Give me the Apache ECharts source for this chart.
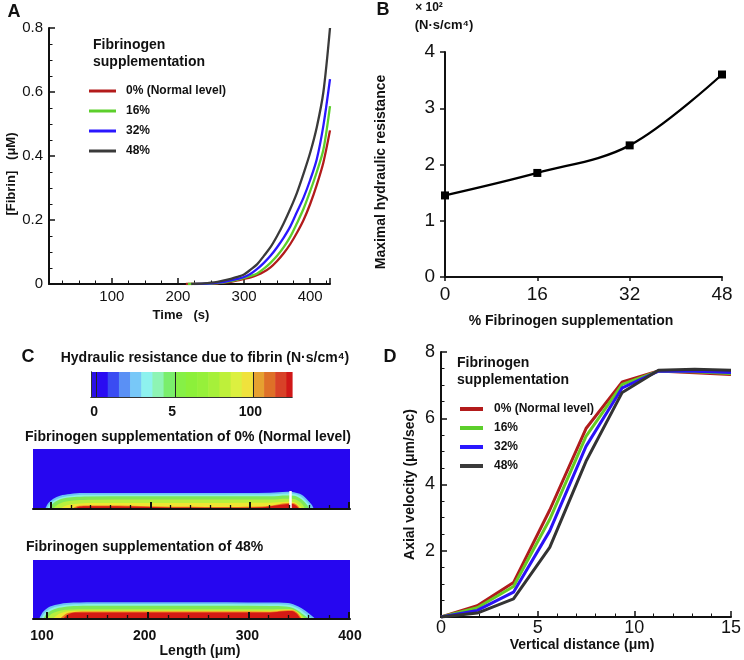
<!DOCTYPE html>
<html><head><meta charset="utf-8">
<script src="https://cdn.jsdelivr.net/npm/echarts@6/dist/echarts.min.js"></script>
<style>html,body{margin:0;padding:0;background:#fff}#c{width:744px;height:660px}</style>
</head><body><div id="c"></div>
<script>
// ===== Data =====
const seriesNames = ['0% (Normal level)', '16%', '32%', '48%'];

// Panel A: [time (s), fibrin (uM)]
const fibrin0 = [[212,0],[230,0.0005],[250,0.001],[260,0.002],[270,0.004],[280,0.007],[290,0.011],[300,0.016],[310,0.021],[320,0.028],[330,0.038],[340,0.052],[350,0.072],[360,0.096],[370,0.125],[380,0.16],[390,0.2],[400,0.25],[410,0.31],[420,0.38],[430,0.48]];
const fibrin16 = [[215,0],[240,0.0008],[250,0.0015],[260,0.003],[270,0.005],[280,0.009],[290,0.014],[300,0.019],[310,0.025],[320,0.033],[330,0.048],[340,0.066],[350,0.088],[360,0.115],[370,0.148],[380,0.19],[390,0.235],[400,0.29],[410,0.35],[420,0.42],[430,0.556]];
const fibrin32 = [[225,0],[250,0.002],[260,0.004],[270,0.007],[280,0.011],[290,0.016],[300,0.022],[310,0.032],[320,0.047],[330,0.066],[340,0.088],[350,0.115],[360,0.145],[370,0.18],[380,0.225],[390,0.27],[400,0.325],[410,0.39],[420,0.495],[430,0.64]];
const fibrin48 = [[220,0],[240,0.002],[250,0.004],[260,0.007],[270,0.011],[280,0.016],[290,0.022],[300,0.03],[310,0.045],[320,0.062],[330,0.088],[340,0.115],[350,0.15],[360,0.19],[370,0.235],[380,0.285],[390,0.345],[400,0.41],[410,0.49],[420,0.6],[430,0.8]];

// Panel B
const supplementPct = [0, 16, 32, 48];
const maxResistance = [1.45, 1.85, 2.34, 3.6];

// Panel D
const verticalDistance = [0, 1.875, 3.75, 5.625, 7.5, 9.375, 11.25, 13.125, 15];
const velocity0 = [0, 0.34, 1.04, 3.23, 5.69, 7.1, 7.43, 7.37, 7.32];
const velocity16 = [0, 0.28, 0.92, 2.95, 5.45, 7.02, 7.42, 7.4, 7.35];
const velocity32 = [0, 0.2, 0.75, 2.6, 5.15, 6.92, 7.42, 7.42, 7.38];
const velocity48 = [0, 0.12, 0.55, 2.1, 4.7, 6.78, 7.45, 7.48, 7.45];

// Panel C colour bar
const colorbarEdges = [0,0.5,1.5,2.5,3.5,4.5,5.5,6.5,7.5,8.5,9.5,10.5,11.5,12.5,13.5,14.5,15.5,16.5,17.5,18];
const colorbarTickPos = [0.5, 7.5, 14.5];
const colorbarTickLabels = ['0', '5', '100'];

// Panel C clot contour layers: [length (um), height]
const clot0Rim = [[102.9,0],[104.4,3],[106.1,6],[111.0,10.3],[117.5,13.3],[127.3,15],[139.9,16],[205.2,16],[273.4,16],[322.1,16.3],[338.6,17.2],[345.4,16.8],[352.9,14.3],[358.4,9.3],[362.7,4.3],[364.9,0]];
const clot0Aqua = [[104.9,0],[106.3,3],[108.3,6],[113.1,9.3],[119.5,11.8],[129.2,13.3],[141.9,14.2],[205.2,14.3],[322.1,14.5],[338.6,15.4],[345.4,15],[351.8,12.8],[356.7,8.5],[360.6,4],[362.5,0]];
const clot0Green = [[106.8,0],[108.8,3],[111.2,6],[115.6,8.8],[121.4,10.8],[131.2,12],[144.8,12.6],[322.1,12.8],[338.6,13.6],[345.4,13.2],[350.8,11],[355.2,7.5],[358.6,3.5],[360.1,0]];
const clot0Lime = [[110.7,0],[113.6,3],[117.5,5.5],[123.4,7.5],[133.1,8.7],[148.7,9.3],[322.1,9.5],[338.6,10.3],[345.4,10],[349.8,8],[353.7,4.5],[356.2,0]];
const clot0Yellow = [[117.5,0],[121.4,2.5],[127.3,4.5],[137.0,5.6],[151.6,6],[322.1,6.3],[338.6,7.2],[345.4,7],[348.9,5],[351.8,2.5],[353.7,0]];
const clot0Orange = [[129.2,0],[132.1,2],[137.0,3.2],[156.5,3.4],[195.5,3],[234.4,2.2],[283.1,2],[314.3,2.4],[326.9,4],[336.7,5.8],[343.5,6],[347.4,4.8],[349.8,2.5],[351.3,0]];
const clot0Red = [[132.1,0],[135.1,2],[141.9,2.7],[166.2,2.8],[195.5,2.3],[234.4,1.5],[283.1,1.3],[314.3,1.8],[327.9,3.5],[337.6,4.8],[343.5,5],[346.9,3.8],[349.3,1.5],[350.3,0]];
const whiteMarkLength = 342.2;
const whiteMarkHeight = 18;

const clot48Rim = [[97.4,0],[98.5,3],[101.3,7.7],[107.8,12.7],[117.5,15.3],[130.5,16.7],[156.5,17],[322.1,16.8],[339.6,16.2],[346.4,14.3],[352.9,11],[359.4,6],[364.2,2],[366.2,0]];
const clot48Aqua = [[99.3,0],[100.5,3],[103.4,7],[109.7,11.3],[119.5,13.7],[132.1,15],[156.5,15.3],[322.1,15.1],[338.6,14.5],[345.4,12.8],[351.8,9.5],[357.2,5],[361.5,1.5],[363.5,0]];
const clot48Green = [[101.5,0],[102.9,3],[105.8,6.5],[111.7,10],[121.4,12.2],[134.1,13.2],[156.5,13.4],[322.1,13.3],[337.6,12.8],[344.5,11.2],[350.3,8],[355.2,4],[359.1,1],[360.6,0]];
const clot48Lime = [[104.9,0],[106.8,3],[110.7,6],[117.5,8.5],[127.3,9.6],[141.9,10],[322.1,10],[336.7,10.2],[343.5,9.8],[348.9,7],[353.2,3.5],[356.2,0]];
const clot48Yellow = [[110.7,0],[113.6,3],[118.5,6],[125.3,7.8],[137.0,8.3],[322.1,8.3],[336.7,9.3],[343.5,9.3],[348.6,7],[351.8,3.5],[353.7,0]];
const clot48Orange = [[117.5,0],[120.5,3],[124.4,5.8],[131.2,7.2],[146.8,7.6],[322.1,7.5],[335.7,8.6],[343.5,8.8],[348.0,6.8],[351.3,3],[352.7,0]];
const clot48Red = [[120.5,0],[123.4,3],[127.3,5.5],[134.1,6.5],[151.6,6.7],[322.1,6.7],[335.7,8],[343.5,8.2],[347.4,6],[350.3,2.5],[351.8,0]];

// ===== Styles =====
const FONT = '"Liberation Sans", Arial, Helvetica, sans-serif';
const colorsA = ['#b31b1b', '#5ccf2b', '#2a17ff', '#3a3a3a'];
const colorsD = ['#b01c1c', '#66cc22', '#2b12f5', '#333333'];
const barPalette = ['#2a10e6','#2a0cf2','#3a4cf2','#5a90f5','#78c8f8','#8ef2ee','#8ef4b4','#7aee6c','#86f046','#8cf03a','#96f03a','#a6f03a','#bef03a','#dcf040','#f0e23c','#e6a030','#de7028','#d84228','#d01818'];
const clotColors = ['#6cc4f6','#8cf0e4','#7ee858','#b8f03c','#f0e632','#ec7a22','#d41a14'];
const channelBlue = '#2606f0';

const fibrinSets = [fibrin0, fibrin16, fibrin32, fibrin48];
const velocitySets = [velocity0, velocity16, velocity32, velocity48];
const clot0Layers = [clot0Rim, clot0Aqua, clot0Green, clot0Lime, clot0Yellow, clot0Orange, clot0Red];
const clot48Layers = [clot48Rim, clot48Aqua, clot48Green, clot48Lime, clot48Yellow, clot48Orange, clot48Red];
const colorbarSegments = colorbarEdges.slice(0, -1).map((e, i) => [e, colorbarEdges[i + 1]]);

const black = '#111';
const boldName = (size) => ({fontFamily: FONT, fontWeight: 'bold', fontSize: size, color: black});
const hiddenAxis = (grid, extra) => Object.assign({gridIndex: grid, type: 'value', show: false}, extra || {});

const chart = echarts.init(document.getElementById('c'), null, {renderer: 'canvas', width: 744, height: 660});

const txt = (text, x, y, size, align, extra) => ({
  type: 'text', x: x, y: y, silent: true,
  style: Object.assign({text: text, font: 'bold ' + size + 'px ' + FONT, fill: black,
    textAlign: align || 'center', align: align || 'center', textVerticalAlign: 'middle', verticalAlign: 'middle'}, extra || {})
});

const series = [];
fibrinSets.forEach((d, i) => series.push({
  name: seriesNames[i], type: 'line', xAxisIndex: 0, yAxisIndex: 0, data: d, smooth: 0.3,
  showSymbol: false, symbol: 'none', color: colorsA[i], lineStyle: {width: 2.3, color: colorsA[i]}, z: 3
}));
series.push({
  type: 'line', xAxisIndex: 1, yAxisIndex: 1, data: supplementPct.map((p, i) => [p, maxResistance[i]]),
  smooth: 0.35, symbol: 'rect', symbolSize: 8, color: '#000', lineStyle: {width: 2.3, color: '#000'}, itemStyle: {color: '#000'}
});
velocitySets.forEach((v, i) => series.push({
  name: seriesNames[i], type: 'line', xAxisIndex: 2, yAxisIndex: 2, data: verticalDistance.map((x, j) => [x, v[j]]),
  showSymbol: false, symbol: 'none', color: colorsD[i], lineStyle: {width: 3, color: colorsD[i]}, z: 3
}));
series.push({
  type: 'custom', xAxisIndex: 3, yAxisIndex: 3, data: colorbarSegments, silent: true,
  renderItem: (params, api) => {
    const s = api.coord([api.value(0), 1]);
    const e = api.coord([api.value(1), 0]);
    return {type: 'rect', shape: {x: s[0], y: s[1], width: e[0] - s[0] + 0.6, height: e[1] - s[1]},
      style: {fill: barPalette[params.dataIndex]}};
  },
  markLine: {silent: true, symbol: ['none', 'none'], label: {show: false},
    lineStyle: {color: '#222', width: 1, type: 'solid'},
    data: colorbarTickPos.map(p => ({xAxis: p}))}
});
const addClot = (layers, ax, withMark) => layers.forEach((d, i) => {
  const s = {type: 'line', xAxisIndex: ax, yAxisIndex: ax, data: d, smooth: 0.35, showSymbol: false, symbol: 'none',
    silent: true, color: clotColors[i], lineStyle: {width: 0, color: clotColors[i]},
    areaStyle: {color: clotColors[i], opacity: 1}, z: 2};
  if (withMark && i === layers.length - 1) {
    s.markLine = {silent: true, symbol: ['none', 'none'], label: {show: false},
      lineStyle: {color: '#ffffff', width: 2.5, type: 'solid'},
      data: [[{coord: [whiteMarkLength, 0]}, {coord: [whiteMarkLength, whiteMarkHeight]}]]};
  }
  series.push(s);
});
addClot(clot0Layers, 5, true);
addClot(clot48Layers, 6, false);

const option = {
  animation: false,
  backgroundColor: '#ffffff',
  textStyle: {fontFamily: FONT},
  grid: [
    {left: 49, top: 28, width: 281, height: 256},
    {left: 445, top: 52, width: 277, height: 225},
    {left: 441, top: 352, width: 291, height: 265},
    {left: 91, top: 372, width: 201, height: 25},
    {left: 33, top: 449, width: 317, height: 60, show: true, backgroundColor: channelBlue, borderWidth: 0},
    {left: 33, top: 560, width: 317, height: 59, show: true, backgroundColor: channelBlue, borderWidth: 0},
    {left: 51, top: 449, width: 298, height: 60},
    {left: 47, top: 560, width: 302, height: 59},
    {left: 42, top: 619, width: 308, height: 1}
  ],
  xAxis: [
    {gridIndex: 0, type: 'value', min: 5, max: 430,
      axisLine: {lineStyle: {color: black, width: 2}},
      axisTick: {inside: true, length: 6, lineStyle: {color: black, width: 1.5}},
      minorTick: {show: true, splitNumber: 4, length: 3.5, lineStyle: {color: black, width: 1}},
      splitLine: {show: false},
      axisLabel: {fontFamily: FONT, fontSize: 15, color: black, margin: 5, formatter: v => (v % 100 === 0 ? String(v) : '')},
      name: 'Time   (s)', nameLocation: 'middle', nameGap: 25, nameTextStyle: Object.assign(boldName(13), {padding: [0, 17, 0, 0]})},
    {gridIndex: 1, type: 'value', min: 0, max: 48, interval: 16,
      axisLine: {lineStyle: {color: black, width: 2}},
      axisTick: {inside: false, length: 4, lineStyle: {color: black, width: 1.5}},
      splitLine: {show: false},
      axisLabel: {fontFamily: FONT, fontSize: 19, color: black, margin: 8},
      name: '% Fibrinogen supplementation', nameLocation: 'middle', nameGap: 37, nameTextStyle: Object.assign(boldName(14), {padding: [0, 25, 0, 0]})},
    {gridIndex: 2, type: 'value', min: 0, max: 15, interval: 5,
      axisLine: {lineStyle: {color: black, width: 2}},
      axisTick: {inside: true, length: 6, lineStyle: {color: black, width: 1.5}},
      minorTick: {show: true, splitNumber: 5, length: 3.5, lineStyle: {color: black, width: 1}},
      splitLine: {show: false},
      axisLabel: {fontFamily: FONT, fontSize: 18, color: black, margin: 2},
      name: 'Vertical distance (μm)', nameLocation: 'middle', nameGap: 20, nameTextStyle: Object.assign(boldName(14), {padding: [0, 8, 0, 0]})},
    {gridIndex: 3, type: 'value', min: 0, max: 18, interval: 0.5, z: 10,
      axisLine: {lineStyle: {color: '#333', width: 1}}, axisTick: {show: false}, splitLine: {show: false},
      axisLabel: {fontFamily: FONT, fontWeight: 'bold', fontSize: 14, color: black, margin: 8, padding: [0, 5, 0, 0],
        formatter: v => { const k = colorbarTickPos.indexOf(v); return k >= 0 ? colorbarTickLabels[k] : ''; }}},
    {gridIndex: 3, type: 'value', position: 'top', min: 0, max: 18, z: 10,
      axisLine: {lineStyle: {color: '#333', width: 1}}, axisTick: {show: false}, axisLabel: {show: false}, splitLine: {show: false}},
    {gridIndex: 4, type: 'value', min: 91.2, max: 400, z: 10,
      axisLine: {lineStyle: {color: black, width: 2}}, axisTick: {show: false}, axisLabel: {show: false}, splitLine: {show: false}},
    {gridIndex: 5, type: 'value', min: 91.2, max: 400, z: 10,
      axisLine: {lineStyle: {color: black, width: 2}}, axisTick: {show: false}, axisLabel: {show: false}, splitLine: {show: false}},
    {gridIndex: 6, type: 'value', min: 0, max: 3, interval: 1, z: 11,
      axisLine: {show: false}, axisTick: {inside: true, length: 7, lineStyle: {color: black, width: 2}},
      minorTick: {show: true, splitNumber: 5, length: 4, lineStyle: {color: black, width: 1.3}},
      axisLabel: {show: false}, splitLine: {show: false}},
    {gridIndex: 7, type: 'value', min: 0, max: 3, interval: 1, z: 11,
      axisLine: {show: false}, axisTick: {inside: true, length: 7, lineStyle: {color: black, width: 2}},
      minorTick: {show: true, splitNumber: 5, length: 4, lineStyle: {color: black, width: 1.3}},
      axisLabel: {show: false}, splitLine: {show: false}},
    {gridIndex: 8, type: 'value', min: 100, max: 400, interval: 100,
      axisLine: {show: false}, axisTick: {show: false}, splitLine: {show: false},
      axisLabel: {fontFamily: FONT, fontWeight: 'bold', fontSize: 14, color: black, margin: 9},
      name: 'Length (μm)', nameLocation: 'middle', nameGap: 22, nameTextStyle: Object.assign(boldName(14), {padding: [0, 0, 0, 8]})}
  ],
  yAxis: [
    {gridIndex: 0, type: 'value', min: 0, max: 0.8, interval: 0.2,
      axisLine: {show: true, lineStyle: {color: black, width: 2}},
      axisTick: {show: true, inside: true, length: 6, lineStyle: {color: black, width: 1.5}},
      minorTick: {show: true, splitNumber: 4, length: 3.5, lineStyle: {color: black, width: 1}},
      splitLine: {show: false},
      axisLabel: {fontFamily: FONT, fontSize: 15, color: black, margin: 6},
      name: '[Fibrin]   (μM)', nameLocation: 'middle', nameGap: 30, nameTextStyle: Object.assign(boldName(13), {padding: [0, 36, 0, 0]})},
    {gridIndex: 1, type: 'value', min: 0, max: 4, interval: 1,
      axisLine: {show: true, lineStyle: {color: black, width: 2}},
      axisTick: {show: true, inside: false, length: 5, lineStyle: {color: black, width: 1.5}},
      splitLine: {show: false},
      axisLabel: {fontFamily: FONT, fontSize: 19, color: black, margin: 10},
      name: 'Maximal hydraulic resistance', nameLocation: 'middle', nameGap: 57, nameTextStyle: Object.assign(boldName(14), {padding: [0, 15, 0, 0]})},
    {gridIndex: 2, type: 'value', min: 0, max: 8, interval: 2,
      axisLine: {show: true, lineStyle: {color: black, width: 2}},
      axisTick: {show: true, inside: true, length: 6, lineStyle: {color: black, width: 1.5}},
      minorTick: {show: true, splitNumber: 4, length: 3.5, lineStyle: {color: black, width: 1}},
      splitLine: {show: false},
      axisLabel: {fontFamily: FONT, fontSize: 18, color: black, margin: 6, formatter: v => (v === 0 ? '' : String(v))},
      name: 'Axial velocity (μm/sec)', nameLocation: 'middle', nameGap: 24, nameTextStyle: boldName(14)},
    {gridIndex: 3, type: 'value', min: 0, max: 1, z: 10,
      axisLine: {show: true, lineStyle: {color: '#333', width: 1}}, axisTick: {show: false}, axisLabel: {show: false}, splitLine: {show: false}},
    {gridIndex: 3, type: 'value', position: 'right', min: 0, max: 1, z: 10,
      axisLine: {show: true, lineStyle: {color: '#333', width: 1}}, axisTick: {show: false}, axisLabel: {show: false}, splitLine: {show: false}},
    hiddenAxis(4, {min: 0, max: 60}),
    hiddenAxis(5, {min: 0, max: 60}),
    hiddenAxis(6, {min: 0, max: 1}),
    hiddenAxis(7, {min: 0, max: 1}),
    hiddenAxis(8, {min: 0, max: 1})
  ],
  legend: [
    {data: seriesNames, left: 84, top: 80, orient: 'vertical', icon: 'rect', itemWidth: 27, itemHeight: 3, itemGap: 8,
      selectedMode: false, textStyle: {fontFamily: FONT, fontSize: 12, fontWeight: 'bold', color: black, padding: [0, 0, 0, 5]}},
    {data: seriesNames, left: 455, top: 398, orient: 'vertical', icon: 'rect', itemWidth: 23, itemHeight: 4, itemGap: 7,
      selectedMode: false, textStyle: {fontFamily: FONT, fontSize: 12, fontWeight: 'bold', color: black, padding: [0, 0, 0, 6]}}
  ],
  graphic: [
    txt('A', 14, 12, 18),
    txt('B', 383, 10, 18),
    txt('C', 28, 357, 18),
    txt('D', 390, 357, 18),
    txt('Fibrinogen', 93, 45, 14, 'left'),
    txt('supplementation', 93, 62, 14, 'left'),
    txt('Fibrinogen', 457, 363, 14, 'left'),
    txt('supplementation', 457, 380, 14, 'left'),
    txt('× 10²', 429, 8, 12),
    txt('(N·s/cm⁴)', 444, 25, 13),
    txt('Hydraulic resistance due to fibrin (N·s/cm⁴)', 205, 358, 14),
    txt('Fibrinogen supplementation of 0% (Normal level)', 25, 437, 14, 'left'),
    txt('Fibrinogen supplementation of 48%', 26, 547, 14, 'left')
  ],
  series: series
};
chart.setOption(option);
</script>
</body></html>
